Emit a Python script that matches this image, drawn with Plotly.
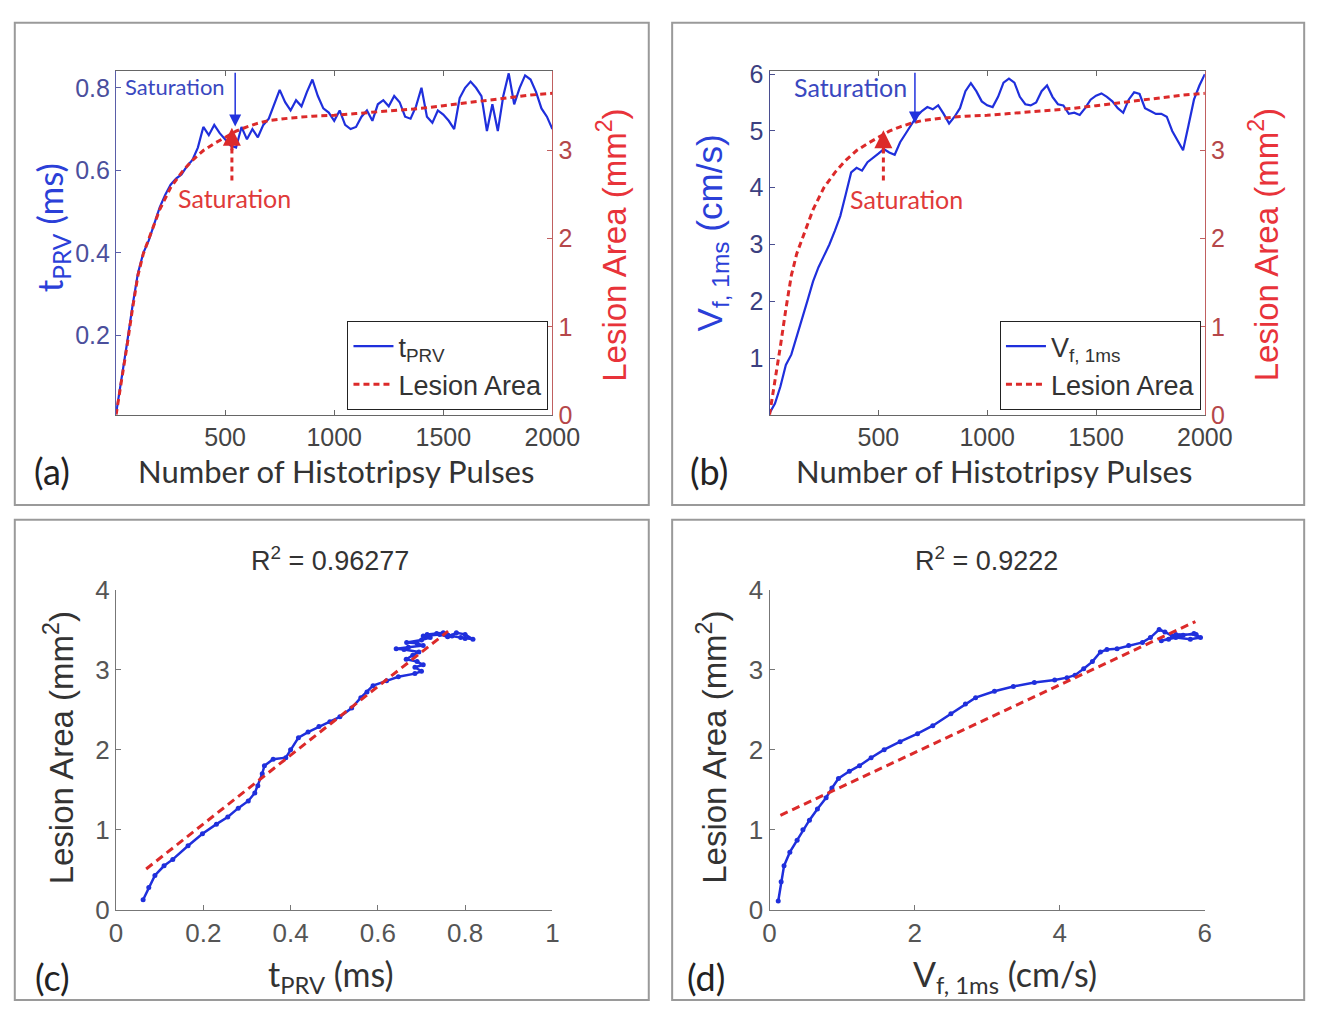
import plotly.graph_objects as go

W, H = 1339, 1018

# ---------------- data ----------------
pulses = list(range(0, 2001, 25))
t_prv = [0.01, 0.09, 0.18, 0.27, 0.35, 0.40, 0.43, 0.47, 0.51, 0.54, 0.565, 0.58, 0.59, 0.61, 0.625, 0.655,
         0.705, 0.685, 0.71, 0.69, 0.675, 0.66, 0.655, 0.705, 0.675, 0.70, 0.68, 0.71, 0.725, 0.76, 0.795, 0.765,
         0.745, 0.77, 0.755, 0.79, 0.82, 0.78, 0.75, 0.74, 0.72, 0.745, 0.71, 0.70, 0.705, 0.73, 0.745, 0.72,
         0.76, 0.77, 0.755, 0.78, 0.765, 0.73, 0.725, 0.755, 0.80, 0.73, 0.715, 0.745, 0.735, 0.72, 0.70, 0.775,
         0.80, 0.815, 0.80, 0.78, 0.695, 0.76, 0.695, 0.78, 0.835, 0.76, 0.80, 0.83, 0.82, 0.79, 0.75, 0.73,
         0.70]
v_f1ms = [0.03, 0.2, 0.5, 0.88, 1.06, 1.37, 1.7, 2.02, 2.35, 2.6, 2.8, 3.0, 3.24, 3.5, 3.88, 4.27,
          4.35, 4.3, 4.45, 4.52, 4.6, 4.68, 4.62, 4.58, 4.8, 4.95, 5.1, 5.25, 5.35, 5.42, 5.38, 5.45,
          5.3, 5.13, 5.25, 5.4, 5.7, 5.84, 5.7, 5.52, 5.45, 5.42, 5.6, 5.85, 5.92, 5.85, 5.6, 5.47,
          5.45, 5.5, 5.7, 5.8, 5.6, 5.47, 5.45, 5.3, 5.32, 5.28, 5.4, 5.55, 5.62, 5.66, 5.6, 5.52,
          5.4, 5.32, 5.55, 5.68, 5.65, 5.4, 5.35, 5.3, 5.3, 5.25, 5.0, 4.82, 4.66, 5.1, 5.55, 5.8,
          6.0]
lesion_pulses = [0, 25, 50, 75, 100, 125, 150, 175, 200, 250, 300, 350, 400, 450, 500, 550, 600, 650,
                 700, 800, 900, 1000, 1100, 1200, 1300, 1400, 1500, 1600, 1700, 1800, 1900, 2000]
lesion_area = [0.0, 0.38, 0.78, 1.2, 1.58, 1.83, 2.0, 2.17, 2.33, 2.58, 2.75, 2.89, 3.0, 3.08, 3.15, 3.22,
               3.27, 3.31, 3.34, 3.37, 3.39, 3.40, 3.42, 3.44, 3.46, 3.48, 3.51, 3.54, 3.57, 3.60, 3.63, 3.65]

# panel (c): t_PRV vs lesion area
c_tprv = [0.062, 0.075, 0.089, 0.11, 0.13, 0.165, 0.198, 0.23, 0.256, 0.28, 0.303, 0.318, 0.325, 0.335,
          0.34, 0.36, 0.389, 0.40, 0.418, 0.44, 0.465, 0.49, 0.513, 0.54, 0.561, 0.575, 0.589, 0.62,
          0.647, 0.685, 0.70, 0.685, 0.704, 0.69, 0.665, 0.68, 0.694, 0.66, 0.642, 0.67, 0.704, 0.69,
          0.666, 0.70, 0.72, 0.704, 0.742, 0.76, 0.78, 0.80, 0.818, 0.79, 0.761, 0.735, 0.713, 0.75,
          0.77, 0.80]
c_lesion = [0.125, 0.28, 0.43, 0.55, 0.63, 0.80, 0.95, 1.07, 1.16, 1.27, 1.36, 1.46, 1.55, 1.70,
            1.80, 1.88, 1.90, 2.0, 2.15, 2.22, 2.29, 2.35, 2.41, 2.52, 2.65, 2.72, 2.80, 2.86,
            2.91, 2.95, 2.98, 3.03, 3.06, 3.10, 3.13, 3.18, 3.22, 3.25, 3.26, 3.28, 3.30, 3.33,
            3.34, 3.37, 3.40, 3.42, 3.44, 3.41, 3.46, 3.44, 3.38, 3.40, 3.43, 3.45, 3.44, 3.46,
            3.42, 3.39]
c_fit_x = [0.069, 0.761]
c_fit_y = [0.51, 3.48]

# panel (d): V_f,1ms vs lesion area
d_vf = [0.12, 0.16, 0.2, 0.28, 0.38, 0.46, 0.55, 0.66, 0.78, 0.86, 0.95, 1.1, 1.24, 1.4, 1.58, 1.8,
        2.04, 2.25, 2.5, 2.7, 2.84, 3.1, 3.36, 3.65, 3.93, 4.1, 4.21, 4.33, 4.45, 4.56, 4.65, 4.79,
        4.95, 5.14, 5.25, 5.37, 5.45, 5.55, 5.65, 5.5, 5.4, 5.6, 5.8, 5.94, 5.85, 5.7, 5.6, 5.88]
d_lesion = [0.11, 0.35, 0.55, 0.72, 0.87, 1.0, 1.12, 1.26, 1.40, 1.52, 1.64, 1.73, 1.80, 1.9, 2.0, 2.1,
            2.2, 2.3, 2.45, 2.57, 2.65, 2.73, 2.79, 2.84, 2.87, 2.9, 2.93, 3.01, 3.1, 3.22, 3.25, 3.26,
            3.3, 3.34, 3.4, 3.50, 3.47, 3.42, 3.42, 3.38, 3.36, 3.40, 3.38, 3.40, 3.45, 3.43, 3.44, 3.44]
d_fit_x = [0.15, 5.87]
d_fit_y = [1.18, 3.6]

# ---------------- style ----------------
BLUE = "#1f2fdc"
RED = "#dc2a2a"
ARIAL = "Arial, Liberation Sans, DejaVu Sans, sans-serif"
CAL = "Lato, Carlito, Calibri, sans-serif"
GRAY_TXT = "#444444"


def px(x):
    return x / W


def py(y):
    return 1 - y / H


fig = go.Figure()

# (a)
fig.add_trace(go.Scatter(x=pulses, y=t_prv, mode="lines", line=dict(color=BLUE, width=2.2),
                         name="t<sub>PRV</sub>", xaxis="x", yaxis="y", legend="legend"))
fig.add_trace(go.Scatter(x=lesion_pulses, y=lesion_area, mode="lines",
                         line=dict(color=RED, width=3, dash="6px,4px"),
                         name="Lesion Area", xaxis="x", yaxis="y2", legend="legend"))
# (b)
fig.add_trace(go.Scatter(x=pulses, y=v_f1ms, mode="lines", line=dict(color=BLUE, width=2.2),
                         name="V<sub>f, 1ms</sub>", xaxis="x2", yaxis="y3", legend="legend2"))
fig.add_trace(go.Scatter(x=lesion_pulses, y=lesion_area, mode="lines",
                         line=dict(color=RED, width=3, dash="6px,4px"),
                         name="Lesion Area", xaxis="x2", yaxis="y4", legend="legend2"))
# (c)
fig.add_trace(go.Scatter(x=c_tprv, y=c_lesion, mode="lines+markers", line=dict(color=BLUE, width=2.5),
                         marker=dict(color=BLUE, size=5), showlegend=False, xaxis="x3", yaxis="y5"))
fig.add_trace(go.Scatter(x=c_fit_x, y=c_fit_y, mode="lines", line=dict(color=RED, width=3, dash="8px,5px"),
                         showlegend=False, xaxis="x3", yaxis="y5"))
# (d)
fig.add_trace(go.Scatter(x=d_vf, y=d_lesion, mode="lines+markers", line=dict(color=BLUE, width=2.5),
                         marker=dict(color=BLUE, size=5), showlegend=False, xaxis="x4", yaxis="y6"))
fig.add_trace(go.Scatter(x=d_fit_x, y=d_fit_y, mode="lines", line=dict(color=RED, width=3, dash="8px,5px"),
                         showlegend=False, xaxis="x4", yaxis="y6"))

tickfont = dict(family=ARIAL, size=25, color=GRAY_TXT)
common = dict(showgrid=False, zeroline=False, ticks="inside", ticklen=5, showline=True, linewidth=1.2)

dom_top = [py(412), py(58)]
dom_bot = [py(922), py(592)]
dom_left = [px(112), px(560)]
dom_right = [px(783), px(1230)]

fig.update_layout(
    width=W, height=H, margin=dict(l=0, r=0, t=0, b=0),
    paper_bgcolor="white", plot_bgcolor="white",
    xaxis=dict(domain=dom_left, anchor="y", range=[0, 2000], tickvals=[500, 1000, 1500, 2000],
               mirror="ticks", linecolor="#666666", tickcolor="#666666", tickfont=tickfont, **common),
    yaxis=dict(domain=dom_top, anchor="x", range=[0.007, 0.84], tickvals=[0.2, 0.4, 0.6, 0.8],
               linecolor="#5a5ea8", tickcolor="#5a5ea8",
               tickfont=dict(family=ARIAL, size=25, color="#4b4f9c"), **common),
    yaxis2=dict(anchor="x", overlaying="y", side="right", range=[0, 3.9], tickvals=[0, 1, 2, 3],
                linecolor="#c06060", tickcolor="#c06060",
                tickfont=dict(family=ARIAL, size=25, color="#b5474a"), **common),
    xaxis2=dict(domain=dom_right, anchor="y3", range=[0, 2000], tickvals=[500, 1000, 1500, 2000],
                mirror="ticks", linecolor="#666666", tickcolor="#666666", tickfont=tickfont, **common),
    yaxis3=dict(domain=dom_top, anchor="x2", range=[0, 6.05], tickvals=[1, 2, 3, 4, 5, 6],
                linecolor="#4a4e90", tickcolor="#4a4e90",
                tickfont=dict(family=ARIAL, size=25, color="#3b3f80"), **common),
    yaxis4=dict(anchor="x2", overlaying="y3", side="right", range=[0, 3.9], tickvals=[0, 1, 2, 3],
                linecolor="#c06060", tickcolor="#c06060",
                tickfont=dict(family=ARIAL, size=25, color="#b5474a"), **common),
    xaxis3=dict(domain=dom_left, anchor="y5", range=[0, 1], tickvals=[0, 0.2, 0.4, 0.6, 0.8, 1],
                ticktext=["0", "0.2", "0.4", "0.6", "0.8", "1"],
                linecolor="#777777", tickcolor="#777777", tickfont=dict(family=ARIAL, size=26, color="#555555"), **common),
    yaxis5=dict(domain=dom_bot, anchor="x3", range=[0, 4], tickvals=[0, 1, 2, 3, 4],
                linecolor="#777777", tickcolor="#777777", tickfont=dict(family=ARIAL, size=26, color="#555555"), **common),
    xaxis4=dict(domain=dom_right, anchor="y6", range=[0, 6], tickvals=[0, 2, 4, 6],
                linecolor="#777777", tickcolor="#777777", tickfont=dict(family=ARIAL, size=26, color="#555555"), **common),
    yaxis6=dict(domain=dom_bot, anchor="x4", range=[0, 4], tickvals=[0, 1, 2, 3, 4],
                linecolor="#777777", tickcolor="#777777", tickfont=dict(family=ARIAL, size=26, color="#555555"), **common),
    legend=dict(x=px(556), y=py(407), xanchor="right", yanchor="bottom", bgcolor="white",
                bordercolor="#222222", borderwidth=1, font=dict(family=ARIAL, size=27, color="#333333"),
                tracegroupgap=0, itemwidth=40),
    legend2=dict(x=px(1226), y=py(407), xanchor="right", yanchor="bottom", bgcolor="white",
                 bordercolor="#222222", borderwidth=1, font=dict(family=ARIAL, size=27, color="#333333"),
                 tracegroupgap=0, itemwidth=40),
)

# panel frames
shapes = []
for (x0, y0, x1, y1) in [(8, 8, 659, 505), (683, 8, 1332, 505), (8, 520, 659, 1015), (683, 520, 1332, 1015)]:
    shapes.append(dict(type="rect", xref="paper", yref="paper", x0=px(x0), y0=py(y1), x1=px(x1), y1=py(y0),
                       line=dict(color="#9a9a9a", width=2), fillcolor="rgba(0,0,0,0)", layer="below"))
# dashed red shafts of the saturation arrows
shapes.append(dict(type="line", xref="x", yref="y2", x0=531, x1=531, y0=2.66, y1=3.02,
                   line=dict(color=RED, width=3, dash="5px,4px")))
shapes.append(dict(type="line", xref="x2", yref="y4", x0=523, x1=523, y0=2.66, y1=3.0,
                   line=dict(color=RED, width=3, dash="5px,4px")))
fig.update_layout(shapes=shapes)

ann = []


def text(x, y, s, size, color, family, angle=0, xanchor="center"):
    ann.append(dict(x=px(x), y=py(y), xref="paper", yref="paper", text=s, showarrow=False,
                    font=dict(family=family, size=size, color=color), textangle=angle,
                    xanchor=xanchor, yanchor="middle"))


# panel (a) texts
text(46, 219, "t<sub>PRV</sub> (ms)", 35, "#2b3fd8", CAL, -90)
text(621, 237, "Lesion Area (mm<sup>2</sup>)", 33, "#e8333a", ARIAL, -90)
text(338, 470, "Number of Histotripsy Pulses", 31, "#333333", CAL)
text(46, 470, "(a)", 36, "#222222", CAL)
text(173, 74, "Saturation", 22, "#3a48c0", CAL)
text(234, 189, "Saturation", 25, "#e03a3a", CAL)
# panel (b) texts
text(724, 225, "V<sub>f, 1ms</sub> (cm/s)", 35, "#2b3fd8", ARIAL, -90)
text(1291, 237, "Lesion Area (mm<sup>2</sup>)", 33, "#e8333a", ARIAL, -90)
text(1013, 470, "Number of Histotripsy Pulses", 31, "#333333", CAL)
text(721, 470, "(b)", 36, "#222222", CAL)
text(866, 74, "Saturation", 25, "#3a48c0", CAL)
text(924, 190, "Saturation", 25, "#e03a3a", CAL)
# panel (c) texts
text(332, 561, "R<sup>2</sup> = 0.96277", 27, "#333333", ARIAL)
text(53, 755, "Lesion Area (mm<sup>2</sup>)", 33, "#333333", ARIAL, -90)
text(333, 990, "t<sub>PRV</sub> (ms)", 34, "#333333", CAL)
text(47, 991, "(c)", 36, "#222222", CAL)
# panel (d) texts
text(1006, 561, "R<sup>2</sup> = 0.9222", 27, "#333333", ARIAL)
text(724, 755, "Lesion Area (mm<sup>2</sup>)", 33, "#333333", ARIAL, -90)
text(1025, 990, "V<sub>f, 1ms</sub> (cm/s)", 34, "#333333", CAL)
text(718, 991, "(d)", 36, "#222222", CAL)

# saturation arrows
ann.append(dict(x=546, y=0.706, xref="x", yref="y", ax=546, ay=0.84, axref="x", ayref="y", text="",
                showarrow=True, arrowhead=2, arrowsize=1.6, arrowwidth=1.5, arrowcolor="#2233dd"))
ann.append(dict(x=531, y=3.26, xref="x", yref="y2", ax=0, ay=24, text="",
                showarrow=True, arrowhead=2, arrowsize=1.2, arrowwidth=3, arrowcolor=RED))
ann.append(dict(x=668, y=5.13, xref="x2", yref="y3", ax=668, ay=6.05, axref="x2", ayref="y3", text="",
                showarrow=True, arrowhead=2, arrowsize=1.6, arrowwidth=1.5, arrowcolor="#2233dd"))
ann.append(dict(x=523, y=3.23, xref="x2", yref="y4", ax=0, ay=24, text="",
                showarrow=True, arrowhead=2, arrowsize=1.2, arrowwidth=3, arrowcolor=RED))

fig.update_layout(annotations=ann)

fig.write_html("out.html")
